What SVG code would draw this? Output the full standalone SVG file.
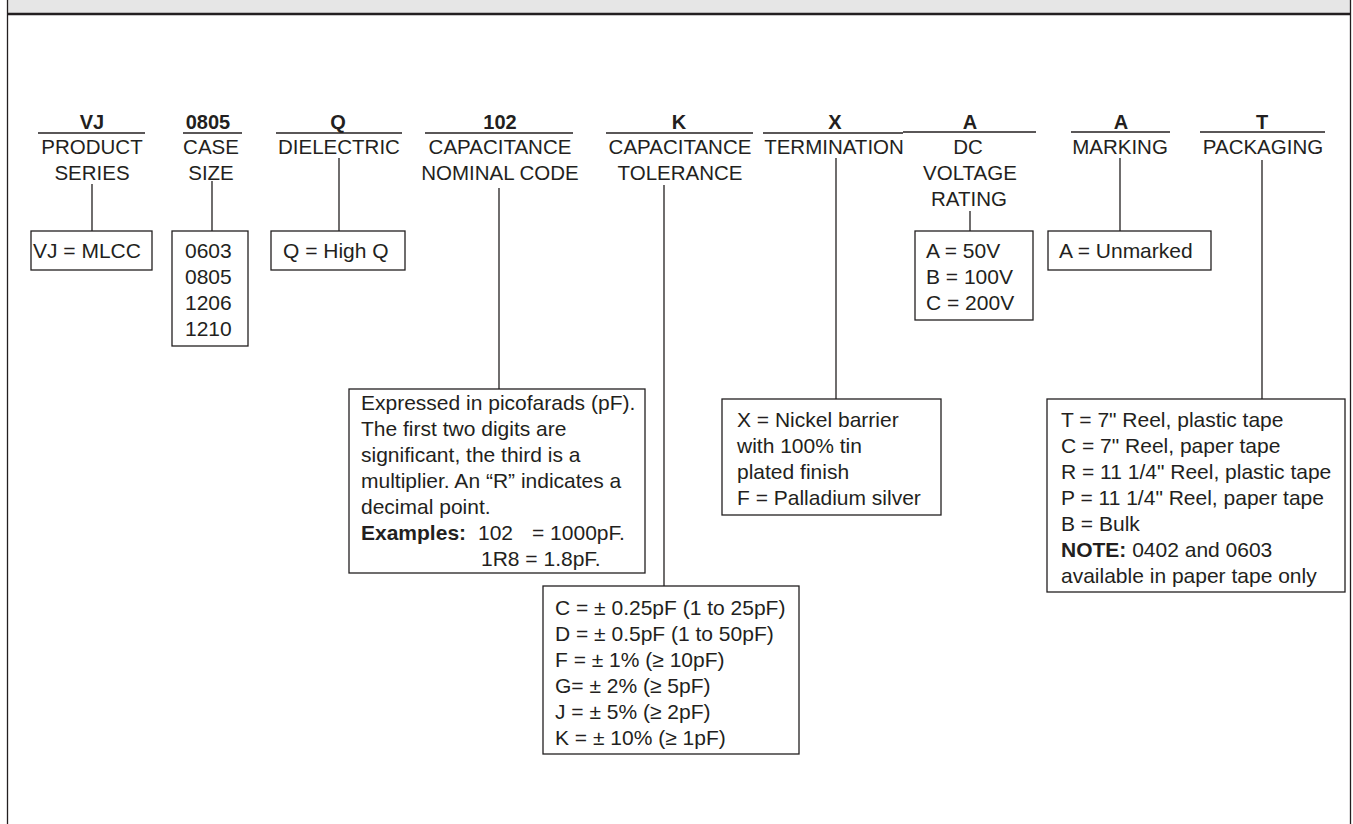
<svg xmlns="http://www.w3.org/2000/svg" width="1353" height="824" viewBox="0 0 1353 824">
<style>
.h{font-family:"Liberation Sans",Arial,sans-serif;font-weight:bold;font-size:20px;fill:#231f20;text-anchor:middle}
.l{font-family:"Liberation Sans",Arial,sans-serif;font-size:20.5px;fill:#231f20;text-anchor:middle}
.t{font-family:"Liberation Sans",Arial,sans-serif;font-size:21px;fill:#231f20}
.b{font-weight:bold}
.ln{stroke:#231f20;stroke-width:1.3;fill:none}
.bx{stroke:#231f20;stroke-width:1.3;fill:#fff}
</style>
<rect x="8" y="0" width="1342" height="13" fill="#e6e6e6"/>
<line x1="7" y1="14" x2="1351" y2="14" stroke="#231f20" stroke-width="2.5"/>
<line x1="7.5" y1="0" x2="7.5" y2="824" stroke="#231f20" stroke-width="1.3"/>
<line x1="1350.5" y1="0" x2="1350.5" y2="824" stroke="#231f20" stroke-width="1.3"/>

<g id="connectors">
<line class="ln" x1="92" y1="184" x2="92" y2="231"/>
<line class="ln" x1="212" y1="181" x2="212" y2="231"/>
<line class="ln" x1="339" y1="158" x2="339" y2="231"/>
<line class="ln" x1="499" y1="188" x2="499" y2="389"/>
<line class="ln" x1="664" y1="185" x2="664" y2="586"/>
<line class="ln" x1="836" y1="158" x2="836" y2="399"/>
<line class="ln" x1="970" y1="211" x2="970" y2="231"/>
<line class="ln" x1="1120" y1="158" x2="1120" y2="231"/>
<line class="ln" x1="1262" y1="160" x2="1262" y2="399"/>
</g>

<g id="product-series">
<text class="h" x="92" y="129">VJ</text>
<line class="ln" x1="38" y1="133" x2="145" y2="133"/>
<text class="l" x="92" y="154">PRODUCT</text>
<text class="l" x="92" y="180">SERIES</text>
<rect class="bx" x="31" y="231" width="121" height="39"/>
<text class="t" x="33" y="258">VJ = MLCC</text>
</g>

<g id="case-size">
<text class="h" x="208" y="129">0805</text>
<line class="ln" x1="183" y1="133" x2="242" y2="133"/>
<text class="l" x="211" y="154">CASE</text>
<text class="l" x="211" y="180">SIZE</text>
<rect class="bx" x="172" y="231" width="76" height="115"/>
<text class="t" x="185" y="258">0603</text>
<text class="t" x="185" y="284">0805</text>
<text class="t" x="185" y="310">1206</text>
<text class="t" x="185" y="336">1210</text>
</g>

<g id="dielectric">
<text class="h" x="338" y="129">Q</text>
<line class="ln" x1="276" y1="133" x2="402" y2="133"/>
<text class="l" x="339" y="154">DIELECTRIC</text>
<rect class="bx" x="271" y="231" width="134" height="39"/>
<text class="t" x="283" y="258">Q = High Q</text>
</g>

<g id="capacitance-code">
<text class="h" x="500" y="129">102</text>
<line class="ln" x1="425" y1="133" x2="573" y2="133"/>
<text class="l" x="500" y="154">CAPACITANCE</text>
<text class="l" x="500" y="180">NOMINAL CODE</text>
<rect class="bx" x="349" y="389" width="296" height="184"/>
<text class="t" x="361" y="410">Expressed in picofarads (pF).</text>
<text class="t" x="361" y="436">The first two digits are</text>
<text class="t" x="361" y="462">significant, the third is a</text>
<text class="t" x="361" y="488">multiplier.  An “R” indicates a</text>
<text class="t" x="361" y="514">decimal point.</text>
<text class="t" x="361" y="540"><tspan class="b">Examples:</tspan><tspan x="478">102</tspan><tspan x="532">= 1000pF.</tspan></text>
<text class="t" x="481" y="566">1R8 = 1.8pF.</text>
</g>

<g id="capacitance-tolerance">
<text class="h" x="679" y="129">K</text>
<line class="ln" x1="606" y1="133" x2="753" y2="133"/>
<text class="l" x="680" y="154">CAPACITANCE</text>
<text class="l" x="680" y="180">TOLERANCE</text>
<rect class="bx" x="543" y="586" width="256" height="168"/>
<text class="t" x="555" y="615">C = ± 0.25pF (1 to 25pF)</text>
<text class="t" x="555" y="641">D = ± 0.5pF (1 to 50pF)</text>
<text class="t" x="555" y="667">F = ± 1% (≥ 10pF)</text>
<text class="t" x="555" y="693">G= ± 2% (≥ 5pF)</text>
<text class="t" x="555" y="719">J = ± 5% (≥ 2pF)</text>
<text class="t" x="555" y="745">K = ± 10% (≥ 1pF)</text>
</g>

<g id="termination">
<text class="h" x="835" y="129">X</text>
<line class="ln" x1="763" y1="133" x2="903" y2="133"/>
<text class="l" x="834" y="154">TERMINATION</text>
<rect class="bx" x="722" y="399" width="219" height="116"/>
<text class="t" x="737" y="427">X = Nickel barrier</text>
<text class="t" x="737" y="453">with 100% tin</text>
<text class="t" x="737" y="479">plated finish</text>
<text class="t" x="737" y="505">F = Palladium silver</text>
</g>

<g id="dc-voltage">
<text class="h" x="970" y="129">A</text>
<line class="ln" x1="903" y1="132" x2="1036" y2="132"/>
<text class="l" x="968" y="154">DC</text>
<text class="l" x="970" y="180">VOLTAGE</text>
<text class="l" x="969" y="206">RATING</text>
<rect class="bx" x="915" y="231" width="118" height="89"/>
<text class="t" x="926" y="258">A = 50V</text>
<text class="t" x="926" y="284">B = 100V</text>
<text class="t" x="926" y="310">C = 200V</text>
</g>

<g id="marking">
<text class="h" x="1121" y="129">A</text>
<line class="ln" x1="1071" y1="132" x2="1170" y2="132"/>
<text class="l" x="1120" y="154">MARKING</text>
<rect class="bx" x="1048" y="231" width="163" height="39"/>
<text class="t" x="1059" y="258">A = Unmarked</text>
</g>

<g id="packaging">
<text class="h" x="1262" y="129">T</text>
<line class="ln" x1="1200" y1="132" x2="1325" y2="132"/>
<text class="l" x="1263" y="154">PACKAGING</text>
<rect class="bx" x="1047" y="399" width="298" height="193"/>
<text class="t" x="1061" y="427">T = 7" Reel, plastic tape</text>
<text class="t" x="1061" y="453">C = 7" Reel, paper tape</text>
<text class="t" x="1061" y="479">R = 11 1/4" Reel, plastic tape</text>
<text class="t" x="1061" y="505">P = 11 1/4" Reel, paper tape</text>
<text class="t" x="1061" y="531">B = Bulk</text>
<text class="t" x="1061" y="557"><tspan class="b">NOTE:</tspan> 0402 and 0603</text>
<text class="t" x="1061" y="583">available in paper tape only</text>
</g>
</svg>
